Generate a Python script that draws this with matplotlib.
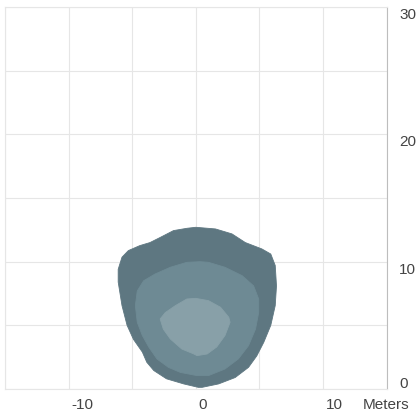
import numpy as np
import matplotlib.pyplot as plt

# footprint contours (meters): outer, middle, inner - traced clockwise from the top
outer_x = [0.0, 1.55, 2.85, 3.9, 5.2, 5.9, 6.25, 6.35, 6.25, 5.9, 5.35, 4.8, 4.15,
           3.1, 1.8, 0.5, 0.2, -0.95, -2.3, -3.3, -3.85, -4.2, -4.9, -5.4, -5.8,
           -6.1, -6.1, -5.8, -5.3, -4.4, -3.6, -2.8, -1.75, -0.7]
outer_y = [12.7, 12.57, 12.18, 11.5, 11.0, 10.6, 9.7, 8.1, 6.55, 5.0, 3.67, 2.6, 1.7,
           0.9, 0.4, 0.13, 0.13, 0.4, 0.8, 1.45, 2.1, 2.9, 3.9, 5.0, 6.55,
           8.4, 9.4, 10.35, 10.87, 11.26, 11.5, 11.9, 12.44, 12.62]

middle_x = [0.35, 1.0, 2.3, 3.65, 4.55, 4.95, 4.95, 4.7, 4.15, 3.35, 2.3, 1.0, 0.1,
            -1.2, -2.15, -3.05, -3.7, -4.2, -4.6, -4.75, -4.6, -4.1, -3.2, -2.0, -0.7]
middle_y = [10.0, 9.95, 9.56, 8.9, 8.1, 7.07, 6.0, 4.7, 3.4, 2.36, 1.57, 1.05, 1.05,
            1.3, 1.7, 2.36, 3.3, 4.2, 5.24, 6.55, 7.7, 8.5, 9.03, 9.56, 9.95]

inner_x = [0.0, 1.0, 1.95, 2.6, 2.7, 2.3, 1.65, 0.9, 0.1, -0.15, -1.1, -2.0, -2.55,
           -2.8, -2.4, -1.6, -0.7]
inner_y = [7.12, 6.94, 6.42, 5.63, 5.24, 4.2, 3.3, 2.75, 2.62, 2.75, 3.14, 3.93, 4.7,
           5.5, 6.0, 6.55, 7.07]

colors = ['#5e7781', '#6e8a94', '#88a0a8']

x_ticks = [-10, 0, 10]
y_ticks = [0, 10, 20, 30]

fig = plt.figure(figsize=(4.19, 4.14), dpi=100)
ax = fig.add_axes([5 / 419, 24 / 414, 381.5 / 419, 382 / 414])

for xs, ys, c in zip([outer_x, middle_x, inner_x], [outer_y, middle_y, inner_y], colors):
    ax.fill(xs, ys, color=c, lw=0.6, ec=c, joinstyle='round', zorder=2)

ax.set_xlim(-15, 15)
ax.set_ylim(0, 30)
ax.set_xticks(np.arange(-15, 16, 5))
ax.set_yticks(np.arange(0, 31, 5))
ax.grid(True, color='#e6e6e6', lw=0.8, zorder=0)
ax.tick_params(length=0, labelbottom=False, labelleft=False)
for s in ['left', 'top', 'bottom']:
    ax.spines[s].set_color('#e6e6e6')
ax.spines['right'].set_color('#bdbdbd')

font = dict(family='Liberation Sans', fontsize=11, color='#444444')
for t in x_ticks:
    ax.annotate(str(t), (t, 0), xytext=(2, -6), textcoords='offset points',
                ha='left', va='top', **font)
ax.annotate('Meters', (15, 0), xytext=(0, -6), textcoords='offset points',
            ha='center', va='top', **font)
for t in y_ticks:
    ax.annotate(str(t), (15, t), xytext=(9, -5 if t else 4), textcoords='offset points',
                ha='left', va='center', **font)

fig.savefig('out.png', dpi=100)
